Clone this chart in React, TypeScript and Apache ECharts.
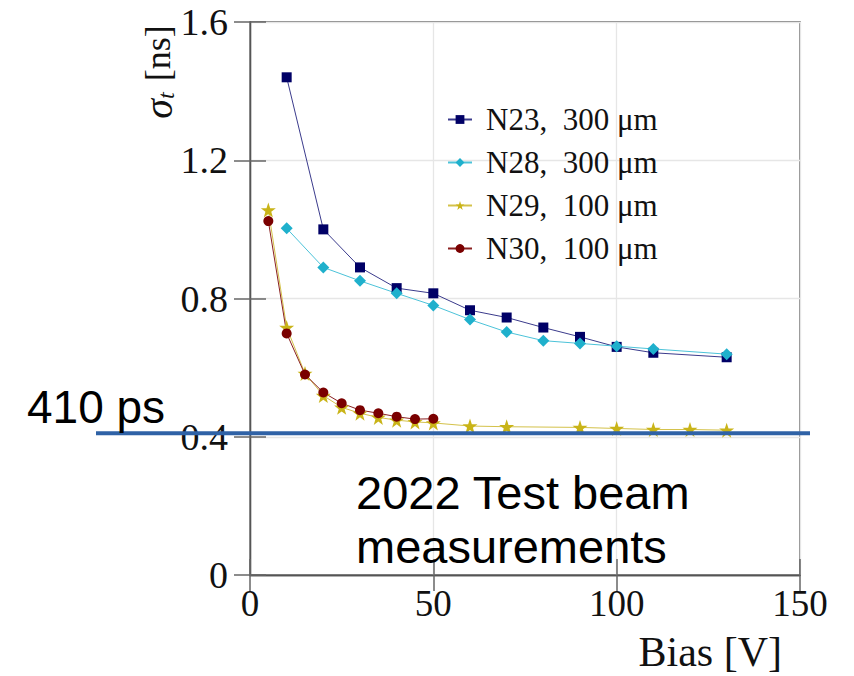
import React, { useEffect, useRef } from "react";
import * as echarts from "echarts";

const biasN23 = [10, 20, 30, 40, 50, 60, 70, 80, 90, 100, 110, 130];
const sigmaN23 = [1.44, 1.0, 0.89, 0.83, 0.815, 0.766, 0.745, 0.716, 0.689, 0.66, 0.643, 0.63];
const biasN28 = [10, 20, 30, 40, 50, 60, 70, 80, 90, 100, 110, 130];
const sigmaN28 = [1.003, 0.89, 0.851, 0.815, 0.78, 0.739, 0.703, 0.678, 0.67, 0.662, 0.654, 0.639];
const biasN29 = [5, 10, 15, 20, 25, 30, 35, 40, 45, 50, 60, 70, 90, 100, 110, 120, 130];
const sigmaN29 = [1.056, 0.716, 0.583, 0.519, 0.485, 0.468, 0.456, 0.448, 0.443, 0.44, 0.431, 0.429, 0.427, 0.424, 0.421, 0.421, 0.419];
const biasN30 = [5, 10, 15, 20, 25, 30, 35, 40, 45, 50];
const sigmaN30 = [1.024, 0.699, 0.58, 0.528, 0.497, 0.477, 0.468, 0.458, 0.451, 0.452];

const seriesNames = ["N23,  300 μm", "N28,  300 μm", "N29,  100 μm", "N30,  100 μm"];
const refValue = 0.41;
const refLabel = "410 ps";
const noteLines = ["2022 Test beam", "measurements"];
const xTitle = "Bias [V]";

const serif = "Liberation Serif";
const starPath = "path://M50,0 L61.8,35.1 L98.1,35.1 L68.8,56.8 L79.4,91.9 L50,70.6 L20.6,91.9 L31.2,56.8 L1.9,35.1 L38.2,35.1 Z";

function zip(xs: number[], ys: number[]) {
  return xs.map((x, i) => [x, ys[i]]);
}

export default function App() {
  const ref = useRef<HTMLDivElement>(null);
  useEffect(() => {
    const chart = echarts.init(ref.current!, null, { renderer: "svg" });
    const axisLine = { show: true, lineStyle: { color: "#555", width: 1.3 } };
    const tickStyle = { show: true, inside: true, length: 16, lineStyle: { color: "#666", width: 1.5 } };
    const mk = (name: string, xs: number[], ys: number[], color: string, lineColor: string, symbol: string, size: number) => ({
      type: "line",
      name,
      data: zip(xs, ys),
      symbol,
      symbolSize: size,
      itemStyle: { color },
      lineStyle: { color: lineColor, width: 1 },
      z: 3,
    });
    chart.setOption({
      animation: false,
      grid: { left: 250, right: 54, top: 22, bottom: 101, show: true, borderColor: "#555", borderWidth: 1.3 },
      legend: {
        orient: "vertical",
        left: 442,
        top: 99,
        itemWidth: 24,
        itemHeight: 11,
        itemGap: 12,
        data: seriesNames,
        textStyle: { fontFamily: serif, fontSize: 31, color: "#111", lineHeight: 31, padding: [0, 0, 0, 9] },
      },
      xAxis: [
        {
          type: "value",
          min: 0,
          max: 150,
          interval: 50,
          position: "bottom",
          axisLine,
          axisTick: tickStyle,
          splitLine: { show: true, lineStyle: { color: "#e6e6e6", width: 1.3 } },
          axisLabel: { fontFamily: serif, fontSize: 37, color: "#111", margin: 10 },
        },
        {
          type: "value",
          min: 0,
          max: 150,
          interval: 50,
          position: "top",
          axisLine,
          axisTick: tickStyle,
          splitLine: { show: false },
          axisLabel: { show: false },
        },
      ],
      yAxis: [
        {
          type: "value",
          min: 0,
          max: 1.6,
          interval: 0.4,
          position: "left",
          axisLine,
          axisTick: tickStyle,
          splitLine: { show: true, lineStyle: { color: "#e6e6e6", width: 1.3 } },
          axisLabel: {
            fontFamily: serif,
            fontSize: 38,
            color: "#111",
            margin: 22,
            formatter: (v: number) => (v === 0 ? "0" : v.toFixed(1)),
          },
        },
        {
          type: "value",
          min: 0,
          max: 1.6,
          interval: 0.4,
          position: "right",
          axisLine,
          axisTick: tickStyle,
          splitLine: { show: false },
          axisLabel: { show: false },
        },
      ],
      series: [
        mk(seriesNames[0], biasN23, sigmaN23, "#000066", "#3b3b8c", "rect", 10),
        mk(seriesNames[1], biasN28, sigmaN28, "#1fb0cc", "#4cc3d9", "diamond", 12),
        mk(seriesNames[2], biasN29, sigmaN29, "#c9b418", "#d4c24a", starPath, 15),
        mk(seriesNames[3], biasN30, sigmaN30, "#7a0000", "#8a2020", "circle", 10),
      ],
    });

    const yRef = chart.convertToPixel({ yAxisIndex: 0 }, refValue) as number;
    chart.setOption({
      graphic: [
        {
          type: "line",
          shape: { x1: 96, y1: yRef, x2: 810, y2: yRef },
          style: { stroke: "#2f62a6", lineWidth: 4 },
          z: 10,
        },
        {
          type: "text",
          x: 27,
          y: yRef - 26,
          style: { text: refLabel, font: "46px 'Liberation Sans'", fill: "#000", verticalAlign: "middle", align: "left" },
          z: 10,
        },
        {
          type: "text",
          x: 356,
          y: 465,
          style: { text: noteLines.join("\n"), font: "47px 'Liberation Sans'", lineHeight: 54, fill: "#000", verticalAlign: "top", align: "left" },
          z: 10,
        },
        {
          type: "text",
          x: 782,
          y: 652,
          style: { text: xTitle, font: `42px '${serif}'`, fill: "#111", verticalAlign: "middle", align: "right" },
          z: 10,
        },
        {
          type: "text",
          x: 158,
          y: 72,
          rotation: Math.PI / 2,
          style: {
            text: "{s|σ}{t|t}{n| [ns]}",
            align: "center",
            verticalAlign: "middle",
            fill: "#111",
            rich: {
              s: { fontFamily: serif, fontStyle: "italic", fontSize: 40, lineHeight: 40, verticalAlign: "middle" },
              t: { fontFamily: serif, fontStyle: "italic", fontSize: 24, lineHeight: 24, verticalAlign: "bottom", padding: [0, 2, 0, 0] },
              n: { fontFamily: serif, fontSize: 36, lineHeight: 40, verticalAlign: "middle" },
            },
          },
          z: 10,
        },
      ],
    });
    return () => chart.dispose();
  }, []);
  return <div ref={ref} style={{ position: "fixed", left: 0, top: 0, width: 854, height: 676, background: "#fff" }} />;
}
